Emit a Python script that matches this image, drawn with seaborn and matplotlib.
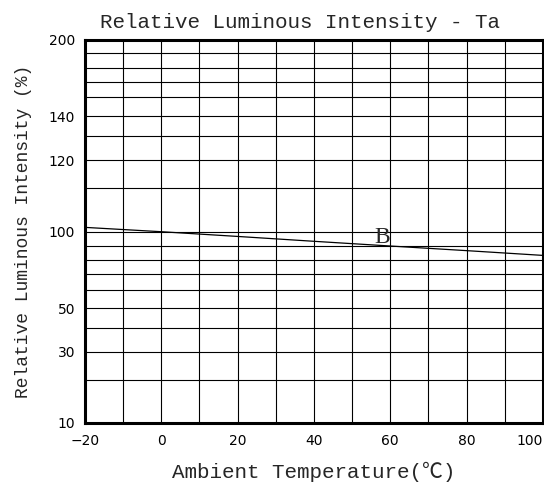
import numpy as np
import pandas as pd
import seaborn as sns
import matplotlib.pyplot as plt

# curve B
temps = [-20, 0, 20, 40, 60, 80, 100]
intensity = [101, 100, 96.7, 93.3, 90, 86.7, 83.3]

x_ticks = [-20, 0, 20, 40, 60, 80, 100]
y_ticks = [10, 30, 50, 100, 120, 140, 200]
y_minor = [20, 40, 60, 70, 80, 90, 110, 130, 152, 164, 176, 188]

# the printed y axis is neither linear nor log: map grid values to their place
grid_vals = [10, 20, 30, 40, 50, 60, 70, 80, 90, 100, 110, 120, 130, 140,
             152, 164, 176, 188, 200]
grid_pos = [0, 42.7, 71, 94.4, 114.4, 132.7, 148.4, 162.7, 176.7, 191,
            234.4, 262.7, 287, 306.7, 325.4, 341, 355, 369.4, 383.2]


def fwd(v):
    return np.interp(v, grid_vals, grid_pos)


def inv(p):
    return np.interp(p, grid_pos, grid_vals)


df = pd.DataFrame({'Ta': temps, 'Iv': intensity})

sns.set_style('white')
plt.rcParams['font.family'] = ['DejaVu Sans']
plt.rcParams['axes.unicode_minus'] = True

fig = plt.figure(figsize=(5.44, 4.82), dpi=100)
ax = fig.add_axes([0.1563, 0.123, 0.998 - 0.1563, 0.918 - 0.123])
ax.set_yscale('function', functions=(fwd, inv))

sns.lineplot(data=df, x='Ta', y='Iv', color='black', linewidth=0.9, ax=ax)

ax.set_xlim(-20, 100)
ax.set_ylim(10, 200)
ax.set_xticks(x_ticks)
ax.set_xticks(np.arange(-20, 101, 10), minor=True)
ax.set_yticks(y_ticks)
ax.set_yticks(y_minor, minor=True)
ax.set_yticklabels([str(t) for t in y_ticks])
ax.grid(True, which='both', color='black', linewidth=0.8)
ax.tick_params(which='both', length=0, labelsize=10, colors='black')
ax.tick_params(axis='x', pad=8)
ax.tick_params(axis='y', pad=7)
xl = ax.get_xticklabels()
xl[-1].set_horizontalalignment('right')

for s in ax.spines.values():
    s.set_visible(True)
    s.set_color('black')
    s.set_linewidth(2.2)

mono = ['Liberation Mono', 'DejaVu Sans Mono', 'Noto Sans CJK SC']
ax.set_title('Relative Luminous Intensity - Ta', family=mono, fontsize=15, pad=8, x=0.47)
ax.set_xlabel('Ambient Temperature(℃)', family=mono, fontsize=15, labelpad=10)
ax.set_ylabel('Relative Luminous Intensity (%)', family=mono, fontsize=13, labelpad=12)

ax.text(58, 96.3, 'B', family='Liberation Serif', fontsize=17, ha='center', va='center')

fig.savefig('out.png', dpi=100)
